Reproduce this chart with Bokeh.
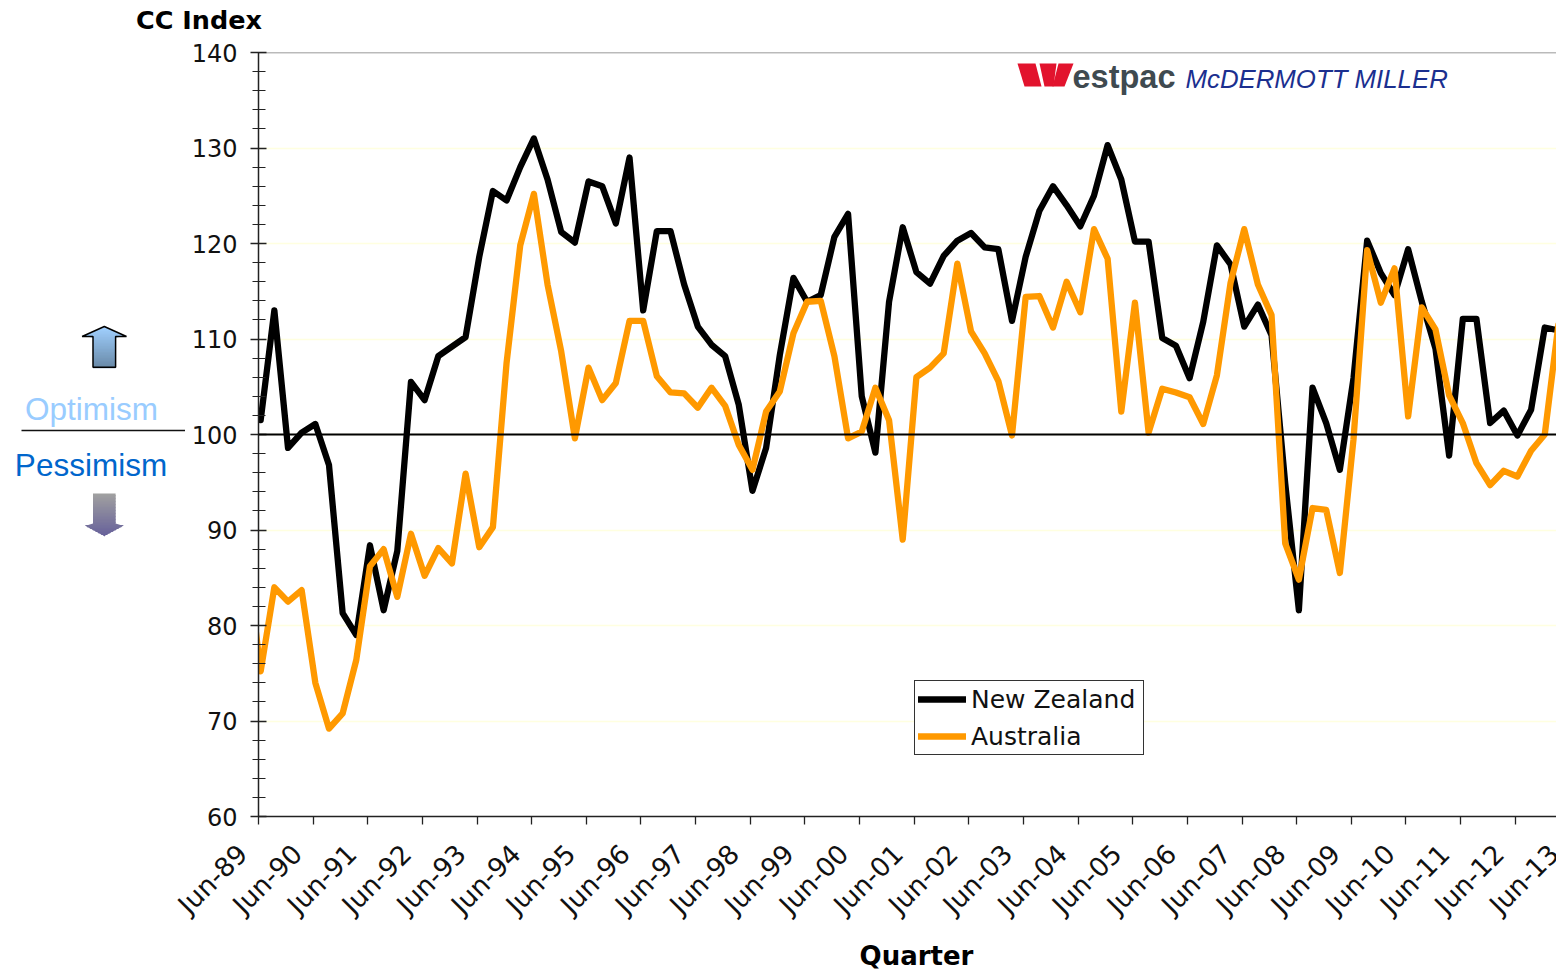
import math
import numpy as np
from bokeh.core.properties import value
from bokeh.embed import file_html
from bokeh.layouts import column, row
from bokeh.resources import INLINE
from bokeh.plotting import figure
from bokeh.models import (ColumnDataSource, FixedTicker, SingleIntervalTicker, Range1d, Label, Span,
                          Legend, LegendItem, PolyAnnotation)

years = ["89","90","91","92","93","94","95","96","97","98","99","00","01","02","03","04","05","06","07","08","09","10","11","12","13"]
tick_labels = ["Jun-" + y for y in years]

new_zealand = [101.5,113.0,98.6,100.2,101.1,96.8,81.3,79.0,88.4,81.6,87.8,105.5,103.6,108.2,109.2,110.2,
 118.6,125.5,124.5,128.0,131.0,126.7,121.2,120.1,126.5,126.0,122.1,129.0,113.0,121.3,121.3,115.7,
 111.3,109.4,108.2,103.1,94.1,98.6,108.3,116.4,113.9,114.6,120.7,123.1,104.0,98.1,113.9,121.7,
 117.0,115.8,118.7,120.3,121.1,119.6,119.4,111.9,118.6,123.4,126.0,124.0,121.8,125.0,130.3,126.7,
 120.2,120.2,110.1,109.3,105.9,111.8,119.8,117.8,111.3,113.6,110.4,94.9,81.6,104.9,101.2,96.3,
 105.9,120.3,116.9,114.6,119.4,113.9,109.0,97.8,112.1,112.1,101.2,102.5,99.9,102.6,111.2,110.9]

# Australia starts one quarter before the visible axis
australia_prior = 87.0
australia = [75.2,84.0,82.5,83.7,74.0,69.2,70.8,76.4,86.2,88.0,83.0,89.6,85.2,88.1,86.5,95.9,
 88.2,90.3,107.5,119.8,125.2,115.7,108.7,99.6,107.0,103.6,105.4,111.9,111.9,106.1,104.4,104.3,
 102.8,104.9,103.0,98.9,96.3,102.4,104.5,110.6,113.9,114.0,108.2,99.6,100.3,104.9,101.5,89.0,
 106.0,107.0,108.5,117.9,110.8,108.5,105.6,99.9,114.4,114.5,111.2,116.0,112.8,121.5,118.4,102.4,
 113.8,100.2,104.8,104.4,103.9,101.1,106.2,115.9,121.5,115.7,112.5,88.6,84.8,92.3,92.1,85.5,
 99.5,119.3,113.8,117.4,101.9,113.3,111.0,104.1,101.2,97.0,94.7,96.2,95.6,98.3,100.0,111.5]

series_names = ["New Zealand", "Australia"]
OFFSET = 0.16
X_END = 95.02

TOTAL_W, TOTAL_H = 1556, 970
HEAD_H, LEFT_W, AXIS_B = 36, 185, 826
FRAME_L, FRAME_T, FRAME_B = 258, 52, 816
FONT = "DejaVu Sans"

def bare(fig):
    fig.outline_line_color = None
    fig.grid.visible = False
    return fig

# ---- header strip with the y title
head = bare(figure(width=TOTAL_W, height=HEAD_H, output_backend="svg", toolbar_location=None,
                   x_range=Range1d(0, TOTAL_W), y_range=Range1d(HEAD_H, 0),
                   x_axis_location=None, y_axis_location=None, min_border=0))
head.text(x=[198.5], y=[19.5], text=["CC Index"], text_font=value(FONT), text_font_size="25.5px", text_font_style="bold",
          text_color="#000000", text_align="center", text_baseline="middle")

# ---- left panel with the optimism / pessimism key (its frame lines up with the chart's frame)
left = bare(figure(width=LEFT_W, height=AXIS_B - HEAD_H, output_backend="svg", toolbar_location=None,
                   x_range=Range1d(0, LEFT_W), y_range=Range1d(FRAME_B, FRAME_T),
                   x_axis_location=None, y_axis_location=None, min_border=0))

def mix(a, b, t):
    return "#%02x%02x%02x" % tuple(int(round(a[i] + (b[i] - a[i]) * t)) for i in range(3))

def arrow(fig, tip_y, head_y, end_y, c0, c1, outline):
    cx, hw, sw = 103.8, 22.2, 11.3
    y0, y1 = min(tip_y, end_y), max(tip_y, end_y)
    hd = abs(head_y - tip_y)
    def half(v):
        d = abs(v - tip_y)
        return hw * d / hd if d < hd else sw
    xs, ys, cs = [], [], []
    y = y0
    while y < y1:
        yb = min(y + 1.5, y1)
        h1, h2 = half(y), half(yb)
        xs.append([cx - h1, cx + h1, cx + h2, cx - h2])
        ys.append([y, y, yb + 1.0, yb + 1.0])
        cs.append(mix(c0, c1, (y - y0) / (y1 - y0)))
        y = yb
    fig.patches(xs, ys, fill_color=cs, line_color=None)
    if outline:
        fig.patch([cx, cx + hw, cx + sw, cx + sw, cx - sw, cx - sw, cx - hw],
                  [tip_y, head_y, head_y, end_y, end_y, head_y, head_y],
                  fill_alpha=0, line_color=outline, line_width=1.5)

arrow(left, 326, 336, 366.7, (160, 208, 255), (104, 136, 166), "#000000")
arrow(left, 535, 523, 493, (160, 160, 160), (102, 96, 154), None)
left.text(x=[91], y=[408], text=["Optimism"], text_font=value("Liberation Sans"), text_font_size="31.5px",
          text_color="#99ccff", text_align="center", text_baseline="middle")
left.text(x=[90.5], y=[464], text=["Pessimism"], text_font=value("Liberation Sans"), text_font_size="31.5px",
          text_color="#0066cc", text_align="center", text_baseline="middle")
left.segment(x0=[21], y0=[430], x1=[186], y1=[430], line_color="#111111", line_width=1.4)

# ---- main chart
p = figure(width=TOTAL_W - LEFT_W, height=AXIS_B - HEAD_H, output_backend="svg", toolbar_location=None,
           x_range=Range1d(0, X_END), y_range=Range1d(60, 140),
           min_border_left=FRAME_L - LEFT_W, min_border_right=0, min_border_top=FRAME_T - HEAD_H,
           min_border_bottom=AXIS_B - FRAME_B)
p.outline_line_color = None
p.background_fill_color = "white"

p.xgrid.visible = False
p.ygrid.grid_line_color = "#ffffe0"
p.ygrid.grid_line_width = 1.5
yax = p.yaxis[0]
yax.ticker = SingleIntervalTicker(interval=10, num_minor_ticks=5)
yax.axis_line_color = "#222222"; yax.axis_line_width = 1.5
yax.major_tick_line_color = "#222222"; yax.major_tick_line_width = 1.3
yax.minor_tick_line_color = "#222222"; yax.minor_tick_line_width = 1.1
yax.major_tick_in = 8; yax.major_tick_out = 8
yax.minor_tick_in = 7; yax.minor_tick_out = 6
yax.major_label_text_font = FONT; yax.major_label_text_font_size = "24px"; yax.major_label_text_color = "#111111"
yax.major_label_standoff = 13

xax = p.xaxis[0]
xticks = [4 * i for i in range(len(tick_labels))]
xax.ticker = FixedTicker(ticks=xticks)
xax.major_label_text_font_size = "0px"
xax.major_label_text_color = None
xax.major_label_standoff = 0
xax.axis_line_color = "#222222"; xax.axis_line_width = 1.5
xax.major_tick_line_color = "#222222"; xax.major_tick_line_width = 1.3
xax.major_tick_in = 0; xax.major_tick_out = 8
xax.minor_tick_line_color = None

p.add_layout(Span(location=140, dimension="width", line_color="#777777", line_width=1.6, level="underlay"))

nz_src = ColumnDataSource(dict(x=np.arange(len(new_zealand)) + OFFSET, y=new_zealand))
au_y = [australia_prior] + australia
au_src = ColumnDataSource(dict(x=np.arange(-1, len(australia)) + OFFSET, y=au_y))
r_nz = p.line("x", "y", source=nz_src, line_color="#000000", line_width=6.3, line_join="round", line_cap="round")
r_au = p.line("x", "y", source=au_src, line_color="#ff9900", line_width=6.3, line_join="round", line_cap="round")
p.add_layout(Span(location=100, dimension="width", line_color="#000000", line_width=1.8, level="overlay"))

legend = Legend(items=[LegendItem(label=series_names[0], renderers=[r_nz]),
                       LegendItem(label=series_names[1], renderers=[r_au])],
                location=(656, 61), orientation="vertical", margin=0, padding=3, spacing=7,
                glyph_width=48, glyph_height=24, label_height=30, label_width=169, label_standoff=5,
                label_text_font=FONT, label_text_font_size="25px", label_text_color="#111111",
                border_line_color="#333333", border_line_width=1, border_line_alpha=1,
                background_fill_color="white", background_fill_alpha=1)
p.add_layout(legend)

def lab(text, x, y, size, color="#111111", font=FONT, style="normal", align="left", base="middle", angle=0):
    p.add_layout(Label(x=x - LEFT_W, y=y - HEAD_H, x_units="canvas", y_units="canvas", text=text,
                       text_font=font, text_font_size=f"{size}px", text_color=color, text_font_style=style,
                       text_align=align, text_baseline=base, angle=angle))

def poly(xs, ys, fill):
    p.add_layout(PolyAnnotation(xs=[x - LEFT_W for x in xs], ys=[y - HEAD_H for y in ys],
                                xs_units="canvas", ys_units="canvas",
                                fill_color=fill, fill_alpha=1, line_alpha=0))

# logo
poly([1017, 1035, 1041, 1024], [63, 63, 86, 86], "#e2132d")
poly([1039, 1056, 1053, 1044], [63, 63, 86, 86], "#e2132d")
poly([1058, 1073, 1064, 1052], [63, 63, 86, 86], "#e2132d")
lab("estpac", 1072, 76, 32.5, color="#3f4a50", font="Liberation Sans", style="bold")
lab("McDERMOTT MILLER", 1185, 78, 25.8, color="#1b2f8f", font="Liberation Sans", style="italic")

# ---- bottom strip: rotated quarter labels under the axis ticks, and the x title
q = X_END / (TOTAL_W - FRAME_L)
bottom = bare(figure(width=TOTAL_W, height=TOTAL_H - AXIS_B, output_backend="svg", toolbar_location=None,
                     x_range=Range1d(-FRAME_L * q, (TOTAL_W - FRAME_L) * q), y_range=Range1d(TOTAL_H, AXIS_B),
                     x_axis_location=None, y_axis_location=None, min_border=0))
bottom.text(x=xticks, y=[848.5] * len(xticks), text=tick_labels, x_offset=-16, angle=math.pi / 4,
            text_font=value(FONT), text_font_size="26.5px", text_color="#111111",
            text_align="right", text_baseline="middle")
bottom.text(x=[(916 - FRAME_L) * q], y=[955], text=["Quarter"], text_font=value(FONT), text_font_size="26px",
            text_font_style="bold", text_color="#000000", text_align="center", text_baseline="middle")

page = column(head, row(left, p, spacing=0), bottom, spacing=0)
open("out.html", "w").write(file_html(page, INLINE))
